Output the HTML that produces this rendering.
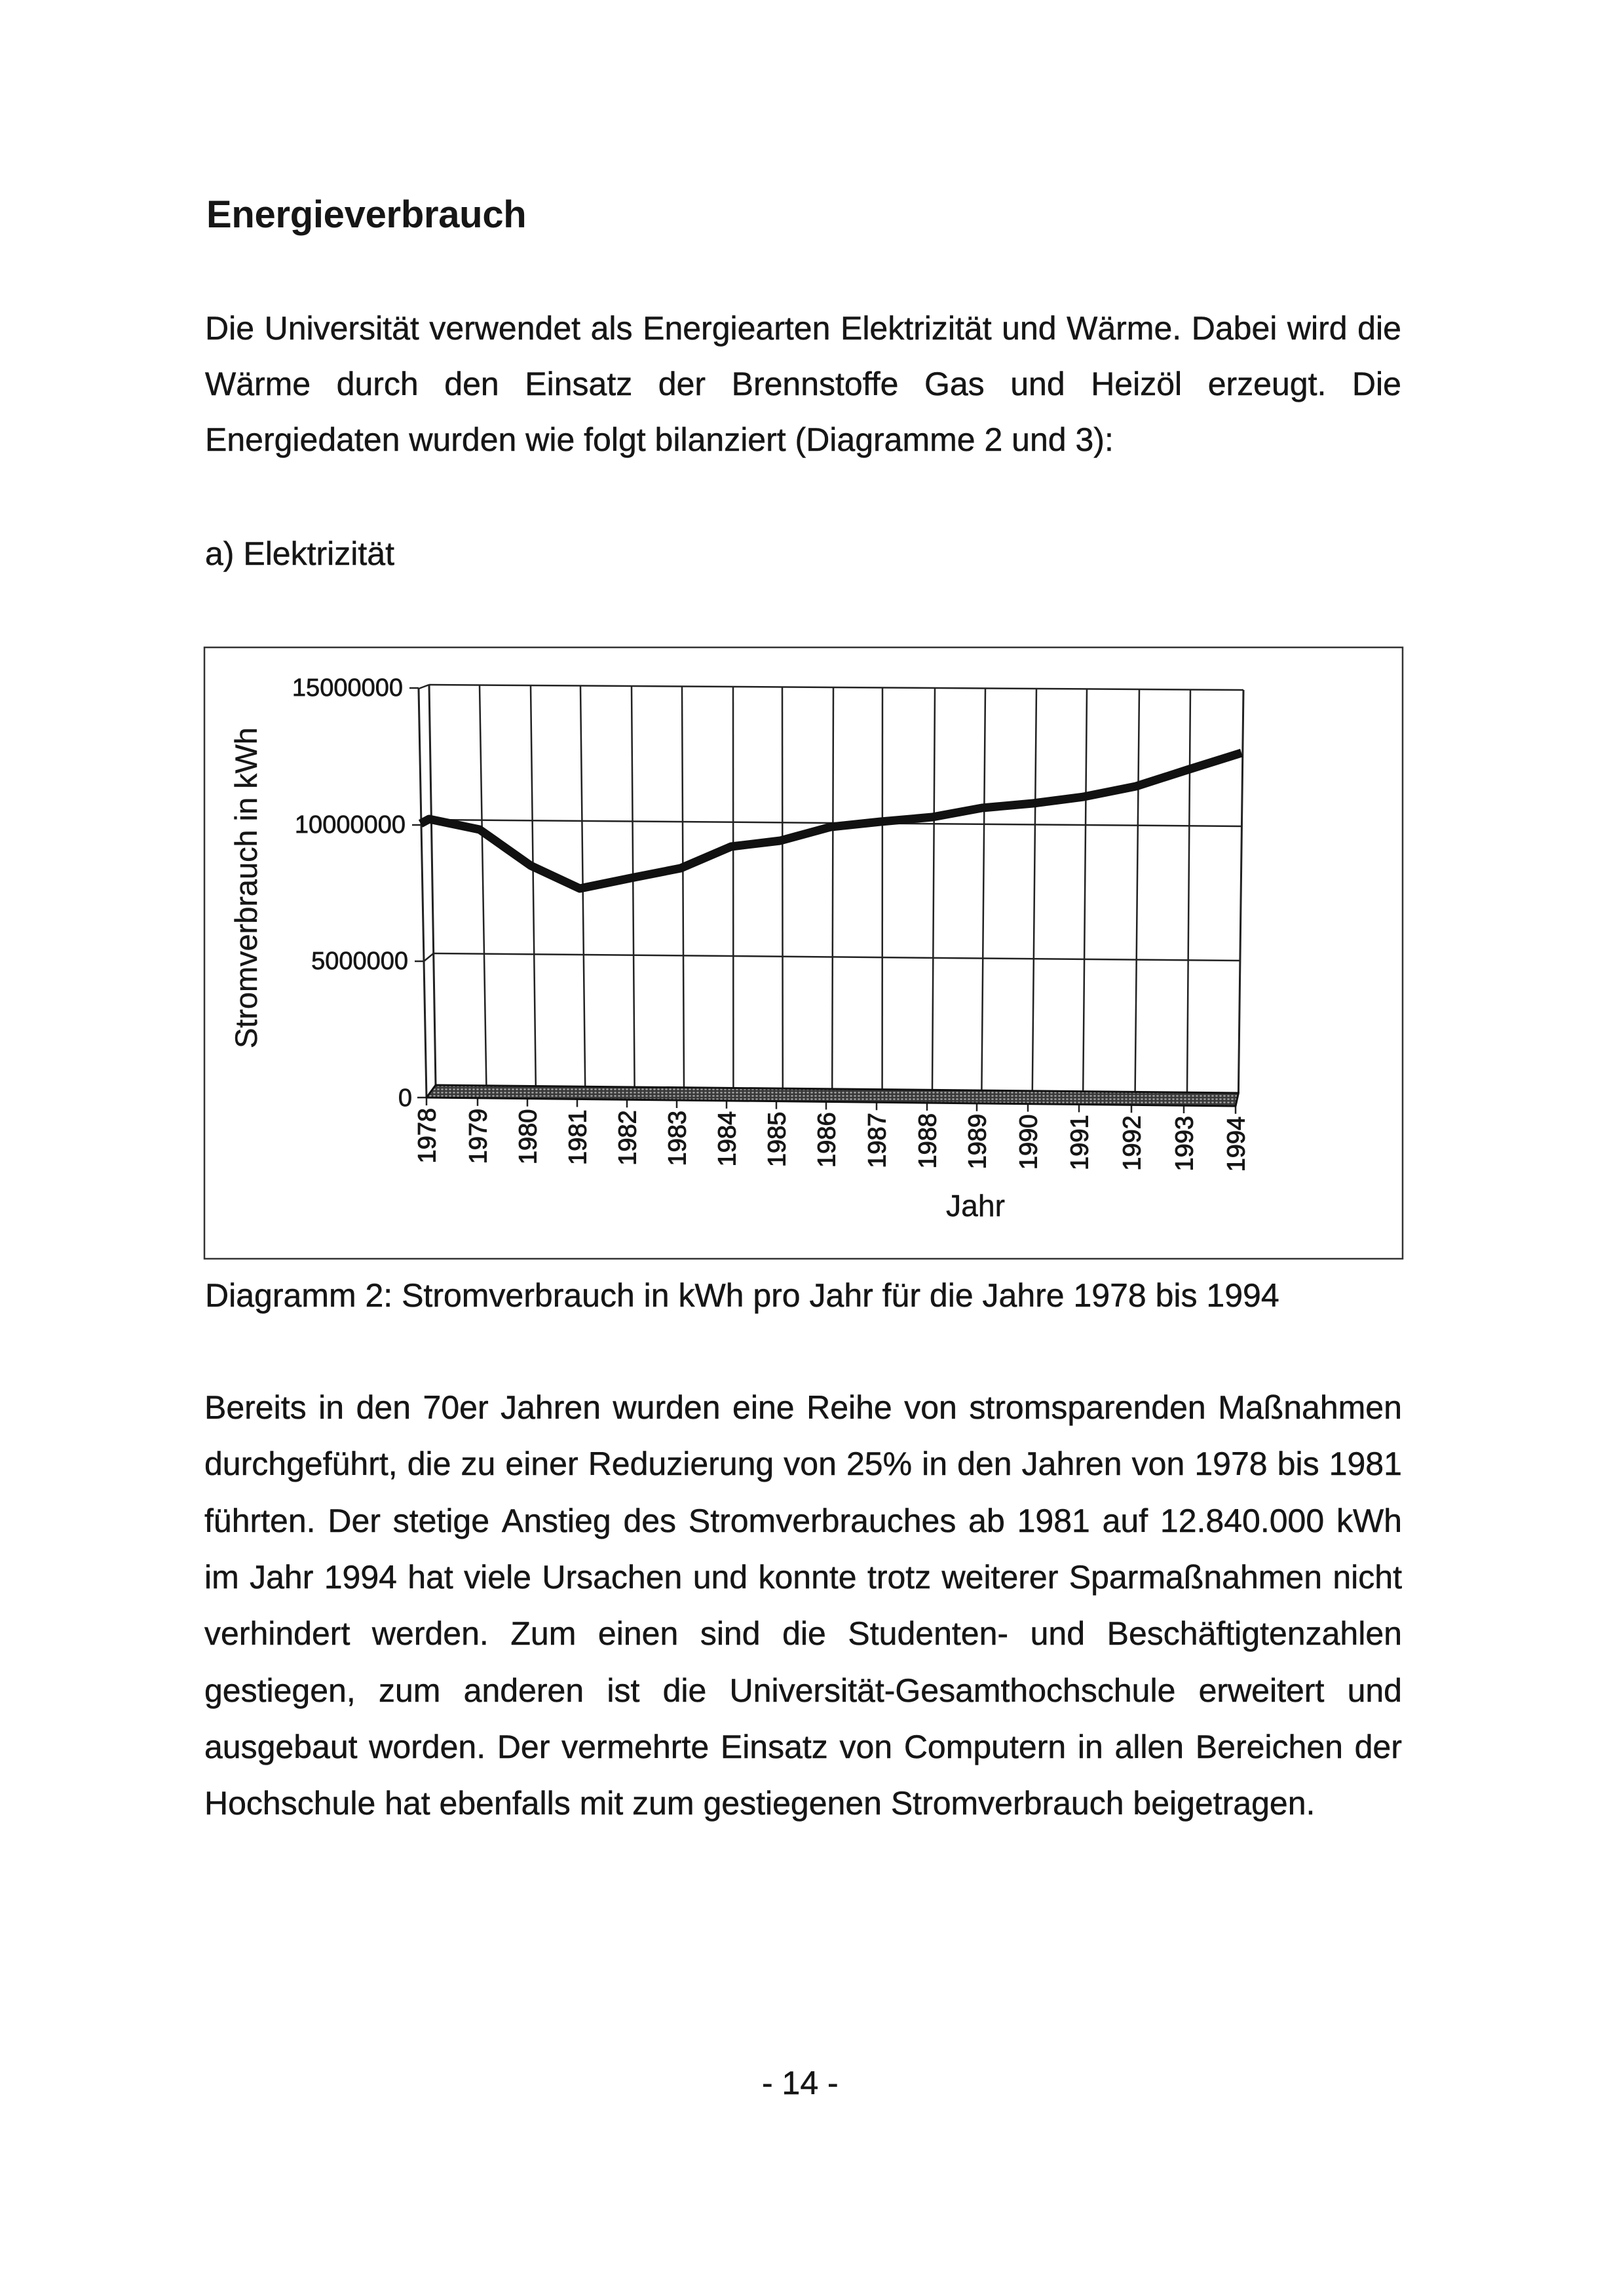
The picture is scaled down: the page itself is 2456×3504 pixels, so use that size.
<!DOCTYPE html>
<html><head><meta charset="utf-8">
<style>
html,body{margin:0;padding:0;background:#fff;}
body{width:2456px;height:3504px;position:relative;overflow:hidden;font-family:"Liberation Sans",Arial,sans-serif;color:#161616;}
.l{position:absolute;font-size:50px;line-height:50px;white-space:nowrap;-webkit-text-stroke:0.5px #161616;}
.j{display:flex;justify-content:space-between;column-gap:4px;}
.j span{white-space:nowrap;}
.t{position:absolute;font-size:58px;line-height:58px;font-weight:bold;white-space:nowrap;letter-spacing:-0.3px;}
svg{position:absolute;left:0;top:0;}
</style></head><body>

<div class="t" style="left:315px;top:299px;">Energieverbrauch</div>

<div class="l j" style="left:313px;top:476px;width:1826px;"><span>Die</span><span>Universität</span><span>verwendet</span><span>als</span><span>Energiearten</span><span>Elektrizität</span><span>und</span><span>Wärme.</span><span>Dabei</span><span>wird</span><span>die</span></div>
<div class="l j" style="left:313px;top:561px;width:1826px;"><span>Wärme</span><span>durch</span><span>den</span><span>Einsatz</span><span>der</span><span>Brennstoffe</span><span>Gas</span><span>und</span><span>Heizöl</span><span>erzeugt.</span><span>Die</span></div>
<div class="l" style="left:313px;top:646px;">Energiedaten wurden wie folgt bilanziert (Diagramme 2 und 3):</div>

<div class="l" style="left:313px;top:820px;">a) Elektrizität</div>

<div class="l" style="left:313px;top:1952px;">Diagramm 2: Stromverbrauch in kWh pro Jahr für die Jahre 1978 bis 1994</div>

<div class="l j" style="left:312px;top:2123px;width:1828px;"><span>Bereits</span><span>in</span><span>den</span><span>70er</span><span>Jahren</span><span>wurden</span><span>eine</span><span>Reihe</span><span>von</span><span>stromsparenden</span><span>Maßnahmen</span></div>
<div class="l j" style="left:312px;top:2209px;width:1828px;"><span>durchgeführt,</span><span>die</span><span>zu</span><span>einer</span><span>Reduzierung</span><span>von</span><span>25%</span><span>in</span><span>den</span><span>Jahren</span><span>von</span><span>1978</span><span>bis</span><span>1981</span></div>
<div class="l j" style="left:312px;top:2296px;width:1828px;"><span>führten.</span><span>Der</span><span>stetige</span><span>Anstieg</span><span>des</span><span>Stromverbrauches</span><span>ab</span><span>1981</span><span>auf</span><span>12.840.000</span><span>kWh</span></div>
<div class="l j" style="left:312px;top:2382px;width:1828px;"><span>im</span><span>Jahr</span><span>1994</span><span>hat</span><span>viele</span><span>Ursachen</span><span>und</span><span>konnte</span><span>trotz</span><span>weiterer</span><span>Sparmaßnahmen</span><span>nicht</span></div>
<div class="l j" style="left:312px;top:2468px;width:1828px;"><span>verhindert</span><span>werden.</span><span>Zum</span><span>einen</span><span>sind</span><span>die</span><span>Studenten-</span><span>und</span><span>Beschäftigtenzahlen</span></div>
<div class="l j" style="left:312px;top:2555px;width:1828px;"><span>gestiegen,</span><span>zum</span><span>anderen</span><span>ist</span><span>die</span><span>Universität-Gesamthochschule</span><span>erweitert</span><span>und</span></div>
<div class="l j" style="left:312px;top:2641px;width:1828px;"><span>ausgebaut</span><span>worden.</span><span>Der</span><span>vermehrte</span><span>Einsatz</span><span>von</span><span>Computern</span><span>in</span><span>allen</span><span>Bereichen</span><span>der</span></div>
<div class="l" style="left:312px;top:2727px;">Hochschule hat ebenfalls mit zum gestiegenen Stromverbrauch beigetragen.</div>

<div class="l" style="left:1163px;top:3154px;">- 14 -</div>

<svg width="2456" height="3504" viewBox="0 0 2456 3504" xmlns="http://www.w3.org/2000/svg">
<defs>
<pattern id="hp" width="6" height="5" patternUnits="userSpaceOnUse">
<rect width="6" height="5" fill="#3a3a3a"/>
<ellipse cx="3" cy="2.5" rx="1.8" ry="1.2" fill="#a8a8a8"/>
</pattern>
</defs>
<rect x="312" y="988" width="1829" height="933" fill="none" stroke="#333" stroke-width="2.5"/>

<g stroke="#222" stroke-width="2.5" fill="none">
<line x1="655" y1="1045" x2="1898" y2="1053"/>
<line x1="658.3" y1="1251" x2="1895.5" y2="1261"/>
<line x1="661.7" y1="1455" x2="1893" y2="1466"/>
<line x1="655" y1="1045" x2="665" y2="1656" stroke-width="3"/>
<line x1="732" y1="1045.5" x2="742.4" y2="1656.75"/>
<line x1="810" y1="1046" x2="817.8" y2="1657.5"/>
<line x1="886" y1="1046.5" x2="893.2" y2="1658.25"/>
<line x1="964" y1="1047" x2="968.6" y2="1659"/>
<line x1="1041" y1="1047.5" x2="1044" y2="1659.75"/>
<line x1="1119" y1="1048" x2="1119.4" y2="1660.5"/>
<line x1="1194" y1="1048.5" x2="1194.8" y2="1661.25"/>
<line x1="1272" y1="1049" x2="1270.2" y2="1662"/>
<line x1="1347" y1="1049.5" x2="1346.6" y2="1662.75"/>
<line x1="1427" y1="1050" x2="1423" y2="1663.5"/>
<line x1="1504" y1="1050.5" x2="1498.4" y2="1664.25"/>
<line x1="1582" y1="1051" x2="1575.8" y2="1665"/>
<line x1="1659" y1="1051.5" x2="1653.2" y2="1665.75"/>
<line x1="1739" y1="1052" x2="1732.6" y2="1666.5"/>
<line x1="1817" y1="1052.5" x2="1812" y2="1667.25"/>
<line x1="1898" y1="1053" x2="1890.4" y2="1668" stroke-width="3"/>
<line x1="639" y1="1051" x2="651" y2="1675" stroke-width="3"/>
<line x1="639" y1="1051" x2="655" y2="1045"/>
<line x1="643" y1="1259" x2="658.3" y2="1251"/>
<line x1="647" y1="1467" x2="661.7" y2="1455"/>
<line x1="625" y1="1050" x2="639" y2="1050"/>
<line x1="629" y1="1259" x2="643" y2="1259"/>
<line x1="633" y1="1467" x2="647" y2="1467"/>
<line x1="637" y1="1675" x2="651" y2="1675"/>
<line x1="651" y1="1675" x2="651" y2="1687"/>
<line x1="729" y1="1675.8" x2="729" y2="1687.8"/>
<line x1="805" y1="1676.6" x2="805" y2="1688.6"/>
<line x1="881" y1="1677.4" x2="881" y2="1689.4"/>
<line x1="957" y1="1678.2" x2="957" y2="1690.2"/>
<line x1="1033" y1="1679" x2="1033" y2="1691"/>
<line x1="1109" y1="1679.8" x2="1109" y2="1691.8"/>
<line x1="1185" y1="1680.6" x2="1185" y2="1692.6"/>
<line x1="1261" y1="1681.4" x2="1261" y2="1693.4"/>
<line x1="1338" y1="1682.2" x2="1338" y2="1694.2"/>
<line x1="1415" y1="1683" x2="1415" y2="1695"/>
<line x1="1491" y1="1683.8" x2="1491" y2="1695.8"/>
<line x1="1569" y1="1684.6" x2="1569" y2="1696.6"/>
<line x1="1647" y1="1685.4" x2="1647" y2="1697.4"/>
<line x1="1727" y1="1686.2" x2="1727" y2="1698.2"/>
<line x1="1807" y1="1687" x2="1807" y2="1699"/>
<line x1="1886" y1="1687.8" x2="1886" y2="1699.8"/>
</g>

<polygon points="665,1656 1890.4,1668 1886,1688 651,1675" fill="url(#hp)" stroke="#111" stroke-width="3" stroke-linejoin="round"/>

<polyline points="642,1257 655,1250 732,1266 810,1321 885,1356 963,1340 1039,1325 1116,1292 1191,1283 1268,1262 1344,1254 1423,1247 1499,1233 1577,1226 1654,1216 1734,1200 1812,1175 1895,1149" fill="none" stroke="#111" stroke-width="13" stroke-linejoin="round" stroke-linecap="butt"/>

<g font-family="Liberation Sans, Arial, sans-serif" fill="#161616" stroke="#161616" stroke-width="0.7">
<g font-size="38" text-anchor="end">
<text x="615" y="1062">15000000</text>
<text x="619" y="1271">10000000</text>
<text x="623" y="1479">5000000</text>
<text x="629" y="1688">0</text>
</g>
<g font-size="38" text-anchor="end" stroke-width="1">
<text transform="translate(664.5,1691) rotate(-90)">1978</text>
<text transform="translate(742.5,1691.8) rotate(-90)">1979</text>
<text transform="translate(818.5,1692.6) rotate(-90)">1980</text>
<text transform="translate(894.5,1693.4) rotate(-90)">1981</text>
<text transform="translate(970.5,1694.2) rotate(-90)">1982</text>
<text transform="translate(1046.5,1695) rotate(-90)">1983</text>
<text transform="translate(1122.5,1695.8) rotate(-90)">1984</text>
<text transform="translate(1198.5,1696.6) rotate(-90)">1985</text>
<text transform="translate(1274.5,1697.4) rotate(-90)">1986</text>
<text transform="translate(1351.5,1698.2) rotate(-90)">1987</text>
<text transform="translate(1428.5,1699) rotate(-90)">1988</text>
<text transform="translate(1504.5,1699.8) rotate(-90)">1989</text>
<text transform="translate(1582.5,1700.6) rotate(-90)">1990</text>
<text transform="translate(1660.5,1701.4) rotate(-90)">1991</text>
<text transform="translate(1740.5,1702.2) rotate(-90)">1992</text>
<text transform="translate(1820.5,1703) rotate(-90)">1993</text>
<text transform="translate(1899.5,1703.8) rotate(-90)">1994</text>
</g>
<text transform="translate(392,1355) rotate(-90)" font-size="47" text-anchor="middle" textLength="490" lengthAdjust="spacingAndGlyphs" stroke-width="0.4">Stromverbrauch in kWh</text>
<text x="1444" y="1856" font-size="46" textLength="90" lengthAdjust="spacingAndGlyphs" stroke-width="0.4">Jahr</text>
</g>
</svg>
</body></html>
